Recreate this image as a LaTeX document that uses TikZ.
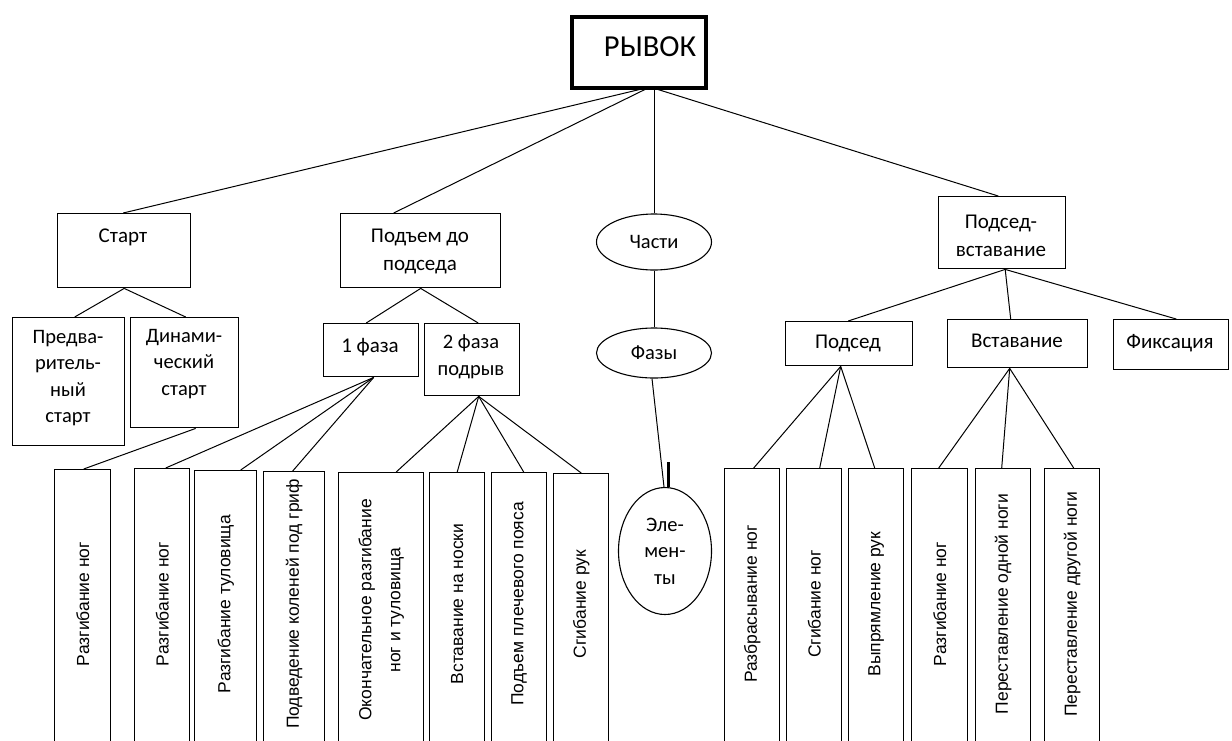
\documentclass[tikz,border=0pt]{standalone}
\usepackage{fontspec}
\setmainfont{Carlito}
\newfontfamily\vfont{Liberation Sans}
\usetikzlibrary{shapes.geometric,calc}
\begin{document}
\begin{tikzpicture}[x=1pt,y=-1pt,
  box/.style={draw, line width=1.4pt, inner sep=0pt, anchor=north west},
  oval/.style={draw, ellipse, line width=1.1pt, inner sep=0pt, font=\fontsize{20.5}{26.5}\selectfont, align=center},
  conn/.style={draw, line width=1pt},
  txt/.style={inner sep=0pt, align=center, font=\fontsize{21}{28}\selectfont},
  stxt/.style={inner sep=0pt, align=center, font=\fontsize{20.5}{26.5}\selectfont},
  vtxt/.style={inner sep=0pt, align=center, rotate=90, font=\vfont\fontsize{17.5}{29}\selectfont},
  vbox/.style={box, minimum height=285pt}
]
\useasboundingbox (0,0) rectangle (1232,740);

% root
\node[box, line width=4pt, minimum width=134pt, minimum height=71pt] (root) at (570,15) {};
\node[inner sep=0pt, font=\fontsize{30.5}{36}\selectfont] (rootT) at (650,47) {РЫВОК};
\coordinate (rootB) at (650,87);

% level 1
\node[box, minimum width=133pt, minimum height=74pt] (start) at (57,213) {};
\node[txt] (startT) at (123,237) {Старт};
\node[box, minimum width=160pt, minimum height=74pt] (lift) at (340,213) {};
\node[txt] (liftT) at (420,251) {Подъем до\\подседа};
\node[oval, minimum width=115pt, minimum height=56pt] (parts) at (654,242) {Части};
\node[box, minimum width=127pt, minimum height=72pt] (ps) at (938,196) {};
\node[txt] (psT) at (1001,236) {Подсед-\\вставание};

\draw[conn] (rootB) -- ([xshift=-1pt]start.north);
\draw[conn] (rootB) -- ([xshift=-27pt]lift.north);
\draw[conn] (parts.north |- rootB) -- (parts.north);
\draw[conn] (rootB) -- ([xshift=-4pt]ps.north);

% level 2
\node[box, minimum width=112pt, minimum height=128pt] (pre) at (12,317) {};
\node[stxt] (preT) at (68,378) {Предва-\\ритель-\\ный\\старт};
\node[box, minimum width=108pt, minimum height=110pt] (dyn) at (130,317) {};
\node[stxt] (dynT) at (184,364) {Динами-\\ческий\\старт};
\draw[conn] (start.south) -- ([xshift=6pt]pre.north);
\draw[conn] (start.south) -- ([xshift=1pt]dyn.north);

\node[box, minimum width=95pt, minimum height=53pt] (f1) at (323,323) {};
\node[txt] (f1T) at (370,347) {1 фаза};
\node[box, minimum width=95pt, minimum height=72pt] (f2) at (424,323) {};
\node[stxt] (f2T) at (471,357) {2 фаза\\подрыв};
\draw[conn] (lift.south) -- ([xshift=-5pt]f1.north);
\draw[conn] (lift.south) -- ([xshift=6pt]f2.north);

\node[oval, minimum width=115pt, minimum height=50pt] (phases) at (654,353) {Фазы};
\draw[conn] (parts.south) -- (phases.north);

\node[box, minimum width=127pt, minimum height=44pt] (sit) at (785,321) {};
\node[txt] (sitT) at (848,343) {Подсед};
\node[box, minimum width=140pt, minimum height=48pt] (stand) at (947,319) {};
\node[txt] (standT) at (1017,341) {Вставание};
\node[box, minimum width=115pt, minimum height=50pt] (fix) at (1113,319) {};
\node[txt] (fixT) at (1170,343) {Фиксация};
\draw[conn] ([xshift=3pt]ps.south) -- ([xshift=-1pt]sit.north);
\draw[conn] ([xshift=3pt]ps.south) -- ([xshift=-7pt]stand.north);
\draw[conn] ([xshift=3pt]ps.south) -- ([xshift=5pt]fix.north);

% elements
\node[oval, minimum width=93pt, minimum height=127pt] (elem) at (665,551) {Эле-\\мен-\\ты};
\draw[conn] ([xshift=-2pt]phases.south) -- ([xshift=-1pt]elem.north);
\coordinate (markTop) at (668,462);
\draw[line width=3pt] (markTop) -- ([xshift=3pt]elem.north);

% bottom boxes
\coordinate (ty) at (0,604);
\node[vbox, minimum width=56pt] (b1) at (54,469) {};
\node[vbox, minimum width=55pt] (b2) at (134,468) {};
\node[vbox, minimum width=62pt] (b3) at (194,470) {};
\node[vbox, minimum width=61pt] (b4) at (263,471) {};
\node[vbox, minimum width=85pt] (b5) at (338,472) {};
\node[vbox, minimum width=55pt] (b6) at (429,472) {};
\node[vbox, minimum width=55pt] (b7) at (491,472) {};
\node[vbox, minimum width=55pt] (b8) at (553,473) {};
\node[vbox, minimum width=55pt] (b9) at (724,468) {};
\node[vbox, minimum width=55pt] (b10) at (786,468) {};
\node[vbox, minimum width=55pt] (b11) at (848,468) {};
\node[vbox, minimum width=56pt] (b12) at (911,468) {};
\node[vbox, minimum width=55pt] (b13) at (975,468) {};
\node[vbox, minimum width=55pt] (b14) at (1044,468) {};

\node[vtxt] (t1) at (b1 |- ty) {Разгибание ног};
\node[vtxt] (t2) at (b2 |- ty) {Разгибание ног};
\node[vtxt] (t3) at (b3 |- ty) {Разгибание туловища};
\node[vtxt] (t4) at (b4 |- ty) {Подведение коленей под гриф};
\node[vtxt] (t5) at ([yshift=-6pt]b5 |- ty) {Окончательное разгибание\\ног и туловища};
\node[vtxt] (t6) at (b6 |- ty) {Вставание на носки};
\node[vtxt] (t7) at (b7 |- ty) {Подъем плечевого пояса};
\node[vtxt] (t8) at (b8 |- ty) {Сгибание рук};
\node[vtxt] (t9) at (b9 |- ty) {Разбрасывание ног};
\node[vtxt] (t10) at (b10 |- ty) {Сгибание ног};
\node[vtxt] (t11) at (b11 |- ty) {Выпрямление рук};
\node[vtxt] (t12) at (b12 |- ty) {Разгибание ног};
\node[vtxt] (t13) at (b13 |- ty) {Переставление одной ноги};
\node[vtxt] (t14) at (b14 |- ty) {Переставление другой ноги};

\draw[conn] ([xshift=11pt]dyn.south) -- ([xshift=1pt]b1.north);
\draw[conn] ([xshift=2.5pt]f1.south) -- ([xshift=3.5pt]b2.north);
\draw[conn] ([xshift=2.5pt]f1.south) -- ([xshift=15pt]b3.north);
\draw[conn] ([xshift=2.5pt]f1.south) -- ([xshift=-1.5pt]b4.north);
\draw[conn] ([xshift=6.5pt]f2.south) -- ([xshift=15pt]b5.north);
\draw[conn] ([xshift=6.5pt]f2.south) -- (b6.north);
\draw[conn] ([xshift=6.5pt]f2.south) -- ([xshift=4.5pt]b7.north);
\draw[conn] ([xshift=6.5pt]f2.south) -- (b8.north);
\draw[conn] ([xshift=-8.5pt]sit.south) -- ([xshift=1.5pt]b9.north);
\draw[conn] ([xshift=-8.5pt]sit.south) -- ([xshift=5.5pt]b10.north);
\draw[conn] ([xshift=-8.5pt]sit.south) -- ([xshift=-1.5pt]b11.north);
\draw[conn] ([xshift=-8pt]stand.south) -- ([xshift=-1pt]b12.north);
\draw[conn] ([xshift=-8pt]stand.south) -- ([xshift=-1.5pt]b13.north);
\draw[conn] ([xshift=-8pt]stand.south) -- ([xshift=1.5pt]b14.north);
\end{tikzpicture}
\end{document}
